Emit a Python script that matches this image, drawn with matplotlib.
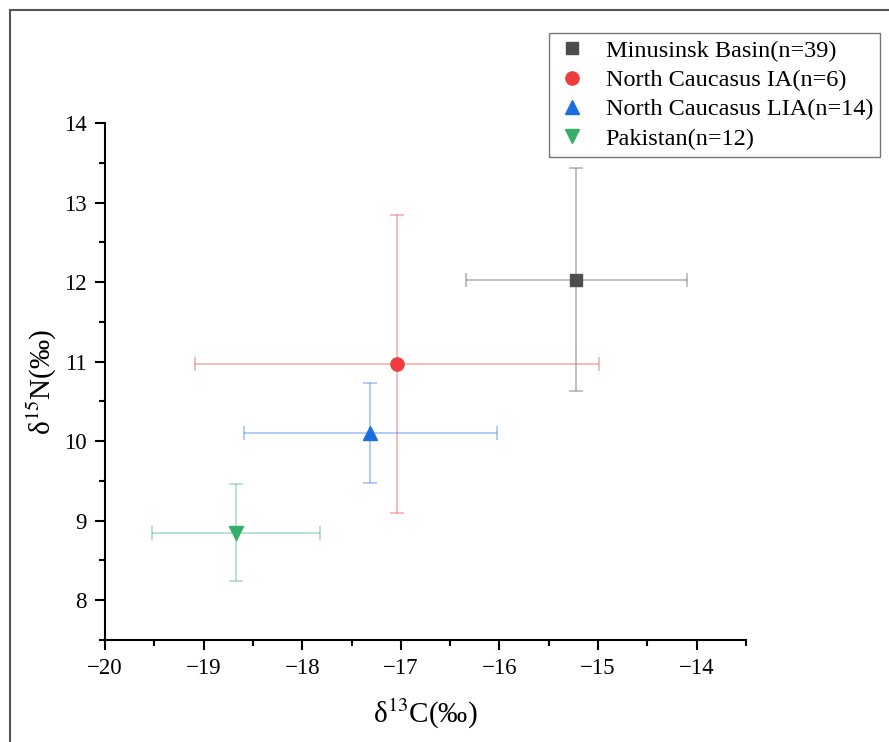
import matplotlib
matplotlib.use("Agg")
import matplotlib.pyplot as plt
from matplotlib.lines import Line2D
from matplotlib.ticker import MultipleLocator

plt.rcParams['font.family'] = ['Liberation Serif', 'DejaVu Serif']
plt.rcParams['mathtext.fontset'] = 'stix'

groups = ["Minusinsk Basin(n=39)", "North Caucasus IA(n=6)",
          "North Caucasus LIA(n=14)", "Pakistan(n=12)"]
d13c_mean = [-15.22, -17.04, -17.31, -18.67]
d13c_sd = [1.12, 2.05, 1.28, 0.85]
d15n_mean = [12.03, 10.97, 10.10, 8.85]
d15n_sd = [1.40, 1.87, 0.63, 0.61]
colors = ["#4d4d4d", "#f03c3c", "#1a6fdf", "#37ad6b"]
markers = ["s", "o", "^", "v"]
msizes = [8, 9.5, 10, 10]

fig = plt.figure(figsize=(8.89, 7.42), dpi=100)
ax = fig.add_axes([105/889, 1-640/742, (746-105)/889, (640-123)/742])

for i, g in enumerate(groups):
    ax.errorbar(d13c_mean[i], d15n_mean[i], xerr=d13c_sd[i], yerr=d15n_sd[i],
                fmt='none', ecolor=colors[i], alpha=0.45, elinewidth=1.1,
                capsize=5, capthick=1.1, zorder=2)
    ax.plot(d13c_mean[i], d15n_mean[i], linestyle='none', marker=markers[i],
            markersize=msizes[i], color=colors[i], label=g, zorder=3)

ax.set_xlim(-20, -13.5)
ax.set_ylim(7.5, 14)
ax.xaxis.set_major_locator(MultipleLocator(1))
ax.xaxis.set_minor_locator(MultipleLocator(0.5))
ax.yaxis.set_major_locator(MultipleLocator(1))
ax.yaxis.set_minor_locator(MultipleLocator(0.5))
ax.spines['top'].set_visible(False)
ax.spines['right'].set_visible(False)
for s in ['left', 'bottom']:
    ax.spines[s].set_linewidth(1.5)
ax.tick_params(which='major', direction='out', length=7, width=1.5, labelsize=16.5, pad=6)
ax.tick_params(which='minor', direction='out', length=4, width=1.5)

ax.set_xlabel(r'δ$^{13}$C(‰)', fontsize=21, labelpad=13)
ax.set_ylabel(r'δ$^{15}$N(‰)', fontsize=21, labelpad=4)

leg = fig.legend(loc='upper right', bbox_to_anchor=(880/889, 1-33/742),
                 fontsize=17.5, frameon=True, fancybox=False, edgecolor='#555555',
                 handletextpad=0.75, borderpad=0.28, labelspacing=0.3,
                 handlelength=1.3, borderaxespad=0)
leg.get_frame().set_linewidth(1.0)

# figure border lines (top and left)
fig.add_artist(Line2D([10/889, 1], [1-10/742, 1-10/742], transform=fig.transFigure,
                      color='#555555', linewidth=1.5))
fig.add_artist(Line2D([10/889, 10/889], [0, 1-10/742], transform=fig.transFigure,
                      color='#555555', linewidth=1.5))

fig.savefig("out.png", dpi=100)
